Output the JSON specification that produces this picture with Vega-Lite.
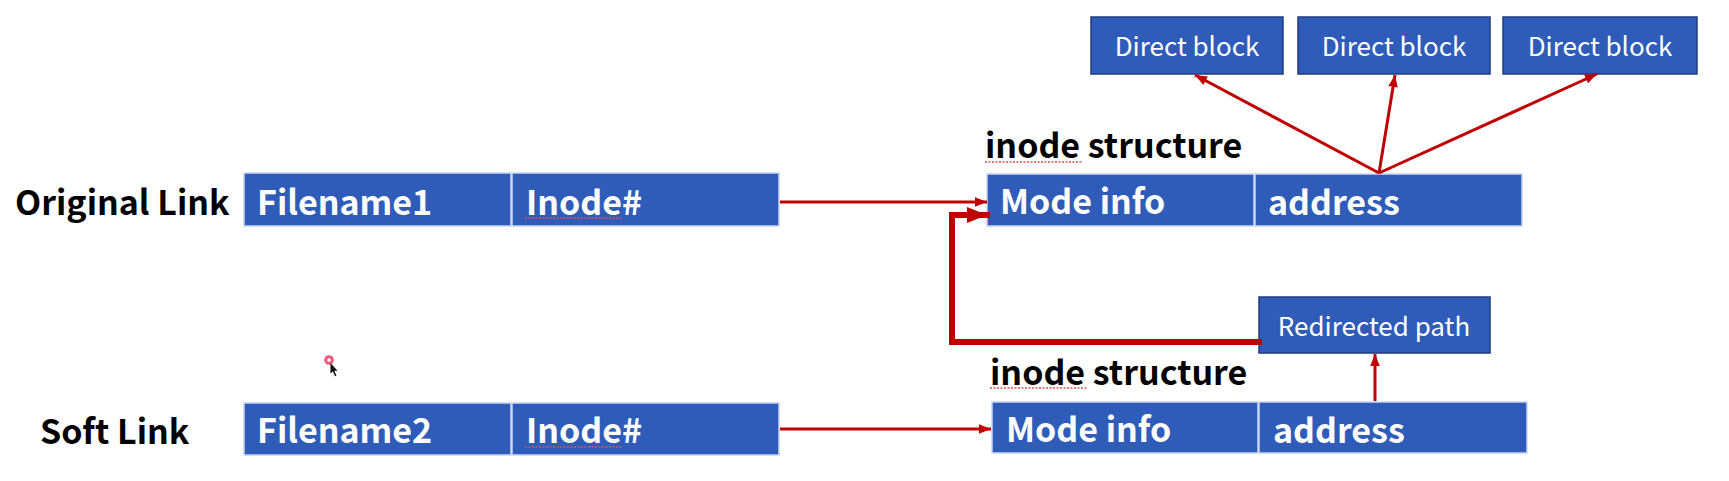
{
  "$schema": "https://vega.github.io/schema/vega-lite/v6.json",
  "description": "Hard link vs soft link: inode structure diagram.",
  "width": 1729,
  "height": 481,
  "autosize": {"type": "none"},
  "padding": 0,
  "background": "white",
  "config": {"view": {"stroke": null}},
  "datasets": {
    "boxes": [
      {"name": "Filename1", "kind": "cell", "left": 244, "right": 511, "top": 173, "bottom": 226},
      {"name": "Inode1", "kind": "cell", "left": 512, "right": 779, "top": 173, "bottom": 226},
      {"name": "Mode1", "kind": "cell", "left": 987, "right": 1254, "top": 174, "bottom": 226},
      {"name": "Address1", "kind": "cell", "left": 1255, "right": 1522, "top": 174, "bottom": 226},
      {"name": "Filename2", "kind": "cell", "left": 244, "right": 511, "top": 403, "bottom": 455},
      {"name": "Inode2", "kind": "cell", "left": 512, "right": 779, "top": 403, "bottom": 455},
      {"name": "Mode2", "kind": "cell", "left": 992, "right": 1258, "top": 402, "bottom": 453},
      {"name": "Address2", "kind": "cell", "left": 1259, "right": 1527, "top": 402, "bottom": 453},
      {"name": "Block1", "kind": "block", "left": 1091, "right": 1283, "top": 17, "bottom": 74},
      {"name": "Block2", "kind": "block", "left": 1298, "right": 1490, "top": 17, "bottom": 74},
      {"name": "Block3", "kind": "block", "left": 1503, "right": 1697, "top": 17, "bottom": 74},
      {"name": "Redirect", "kind": "block", "left": 1259, "right": 1490, "top": 297, "bottom": 353}
    ],
    "links": [
      {"weight": "thin", "head": true, "x1": 780, "y1": 202, "x2": 987, "y2": 202},
      {"weight": "thin", "head": true, "x1": 780, "y1": 429, "x2": 991, "y2": 429},
      {"weight": "thin", "head": true, "x1": 1379, "y1": 173, "x2": 1195, "y2": 75},
      {"weight": "thin", "head": true, "x1": 1379, "y1": 173, "x2": 1395, "y2": 75},
      {"weight": "thin", "head": true, "x1": 1379, "y1": 173, "x2": 1597, "y2": 74},
      {"weight": "thin", "head": true, "x1": 1375, "y1": 401, "x2": 1375, "y2": 354},
      {"weight": "thick", "head": false, "x1": 1259, "y1": 342, "x2": 952, "y2": 342},
      {"weight": "thick", "head": false, "x1": 952, "y1": 342, "x2": 952, "y2": 215},
      {"weight": "thick", "head": true, "x1": 952, "y1": 215, "x2": 987, "y2": 215}
    ],
    "squiggles": [
      {"x1": 525, "x2": 622, "y": 218},
      {"x1": 525, "x2": 622, "y": 447},
      {"x1": 985, "x2": 1082, "y": 162},
      {"x1": 990, "x2": 1087, "y": 388}
    ],
    "labels": [
      {"text": "Original Link", "role": "heading", "x": 15, "y": 215},
      {"text": "Soft Link", "role": "heading", "x": 40, "y": 444},
      {"text": "inode structure", "role": "heading", "x": 985, "y": 158},
      {"text": "inode structure", "role": "heading", "x": 990, "y": 385},
      {"text": "Filename1", "role": "cell", "x": 257, "y": 215},
      {"text": "Inode#", "role": "cell", "x": 526, "y": 215},
      {"text": "Mode info", "role": "cell", "x": 1000, "y": 214},
      {"text": "address", "role": "cell", "x": 1268, "y": 215},
      {"text": "Filename2", "role": "cell", "x": 257, "y": 443},
      {"text": "Inode#", "role": "cell", "x": 526, "y": 443},
      {"text": "Mode info", "role": "cell", "x": 1006, "y": 442},
      {"text": "address", "role": "cell", "x": 1273, "y": 443},
      {"text": "Direct block", "role": "block", "x": 1187, "y": 56},
      {"text": "Direct block", "role": "block", "x": 1394, "y": 56},
      {"text": "Direct block", "role": "block", "x": 1600, "y": 56},
      {"text": "Redirected path", "role": "block", "x": 1374, "y": 336}
    ],
    "cursor": [
      {"x": 329, "y": 360}
    ]
  },
  "layer": [
    {
      "data": {"name": "boxes"},
      "mark": {"type": "rect", "strokeWidth": 1.5},
      "encoding": {
        "x": {"field": "left", "type": "quantitative", "scale": {"domain": [0, 1729], "nice": false, "zero": false}, "axis": null},
        "x2": {"field": "right"},
        "y": {"field": "top", "type": "quantitative", "scale": {"domain": [0, 481], "nice": false, "zero": false, "reverse": true}, "axis": null},
        "y2": {"field": "bottom"},
        "fill": {"value": "#305CB9"},
        "stroke": {"field": "kind", "type": "nominal", "scale": {"domain": ["cell", "block"], "range": ["#C8D5EE", "#1F3D7C"]}, "legend": null}
      }
    },
    {
      "data": {"name": "links"},
      "transform": [{"filter": "datum.weight == 'thin'"}],
      "mark": {"type": "rule", "color": "#C00000", "strokeWidth": 3},
      "encoding": {
        "x": {"field": "x1", "type": "quantitative"},
        "y": {"field": "y1", "type": "quantitative"},
        "x2": {"field": "x2"},
        "y2": {"field": "y2"}
      }
    },
    {
      "data": {"name": "links"},
      "transform": [{"filter": "datum.weight == 'thick'"}],
      "mark": {"type": "rule", "color": "#C00000", "strokeWidth": 6, "strokeCap": "square"},
      "encoding": {
        "x": {"field": "x1", "type": "quantitative"},
        "y": {"field": "y1", "type": "quantitative"},
        "x2": {"field": "x2"},
        "y2": {"field": "y2"}
      }
    },
    {
      "data": {"name": "links"},
      "transform": [
        {"filter": "datum.head"},
        {"calculate": "sqrt(pow(datum.x2 - datum.x1, 2) + pow(datum.y2 - datum.y1, 2))", "as": "len"},
        {"calculate": "datum.weight == 'thick' ? 10 : 6", "as": "back"},
        {"calculate": "datum.x2 - (datum.x2 - datum.x1) / datum.len * datum.back", "as": "hx"},
        {"calculate": "datum.y2 - (datum.y2 - datum.y1) / datum.len * datum.back", "as": "hy"},
        {"calculate": "atan2(datum.x2 - datum.x1, datum.y1 - datum.y2) * 180 / PI", "as": "heading"}
      ],
      "mark": {"type": "point", "shape": "M0,-1L0.8,1L-0.8,1Z", "filled": true, "opacity": 1, "color": "#C00000"},
      "encoding": {
        "x": {"field": "hx", "type": "quantitative"},
        "y": {"field": "hy", "type": "quantitative"},
        "angle": {"field": "heading", "type": "quantitative", "scale": null},
        "size": {"field": "weight", "type": "nominal", "scale": {"domain": ["thin", "thick"], "range": [144, 400]}, "legend": null}
      }
    },
    {
      "data": {"name": "squiggles"},
      "mark": {"type": "rule", "color": "#E05050", "strokeWidth": 1.5, "strokeDash": [2, 1.5]},
      "encoding": {
        "x": {"field": "x1", "type": "quantitative"},
        "x2": {"field": "x2"},
        "y": {"field": "y", "type": "quantitative"}
      }
    },
    {
      "data": {"name": "labels"},
      "transform": [{"filter": "datum.role == 'heading'"}],
      "mark": {"type": "text", "align": "left", "baseline": "alphabetic", "font": "Noto Sans CJK KR", "fontWeight": "bold", "fontSize": 34, "color": "#000000"},
      "encoding": {
        "x": {"field": "x", "type": "quantitative"},
        "y": {"field": "y", "type": "quantitative"},
        "text": {"field": "text"}
      }
    },
    {
      "data": {"name": "labels"},
      "transform": [{"filter": "datum.role == 'cell'"}],
      "mark": {"type": "text", "align": "left", "baseline": "alphabetic", "font": "Noto Sans CJK KR", "fontWeight": "bold", "fontSize": 34, "color": "#FFFFFF"},
      "encoding": {
        "x": {"field": "x", "type": "quantitative"},
        "y": {"field": "y", "type": "quantitative"},
        "text": {"field": "text"}
      }
    },
    {
      "data": {"name": "labels"},
      "transform": [{"filter": "datum.role == 'block'"}],
      "mark": {"type": "text", "align": "center", "baseline": "alphabetic", "font": "Noto Sans CJK KR", "fontWeight": "normal", "fontSize": 26, "color": "#FFFFFF"},
      "encoding": {
        "x": {"field": "x", "type": "quantitative"},
        "y": {"field": "y", "type": "quantitative"},
        "text": {"field": "text"}
      }
    },
    {
      "data": {"name": "cursor"},
      "mark": {"type": "point", "shape": "circle", "filled": false, "strokeWidth": 3, "size": 45, "color": "#E8174A"},
      "encoding": {
        "x": {"field": "x", "type": "quantitative"},
        "y": {"field": "y", "type": "quantitative"}
      }
    },
    {
      "data": {"name": "cursor"},
      "mark": {"type": "point", "shape": "M-0.5,-1L-0.5,0.5L-0.15,0.2L0.15,0.9L0.35,0.8L0.05,0.1L0.5,0.1Z", "filled": true, "opacity": 1, "size": 200, "color": "#111111", "xOffset": 5, "yOffset": 10},
      "encoding": {
        "x": {"field": "x", "type": "quantitative"},
        "y": {"field": "y", "type": "quantitative"}
      }
    }
  ]
}
